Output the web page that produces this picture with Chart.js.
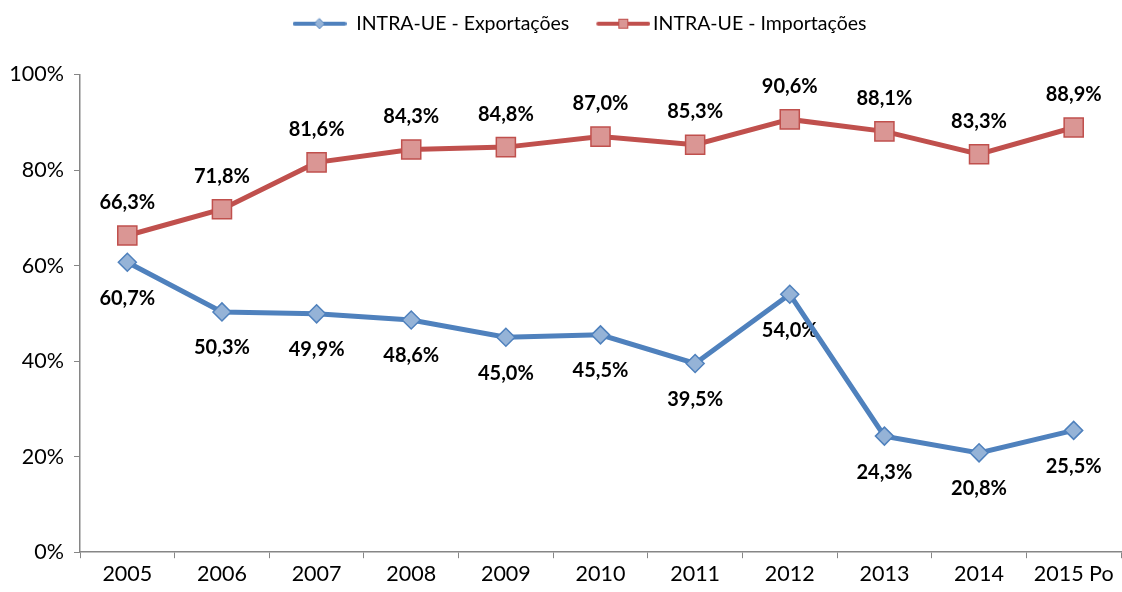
<!DOCTYPE html>
<html>
<head>
<meta charset="utf-8">
<script src="https://cdn.jsdelivr.net/npm/chart.js@4/dist/chart.umd.min.js"></script>
<style>
  html, body { margin: 0; padding: 0; background: #fff; }
  #wrap { width: 1122px; height: 592px; position: relative; }
</style>
</head>
<body>
<div id="wrap"><canvas id="chart"></canvas></div>
<script>
    'use strict';

    var years = ['2005', '2006', '2007', '2008', '2009', '2010', '2011', '2012', '2013', '2014', '2015 Po'];
    var exportsIntra = [60.7, 50.3, 49.9, 48.6, 45.0, 45.5, 39.5, 54.0, 24.3, 20.8, 25.5];
    var importsIntra = [66.3, 71.8, 81.6, 84.3, 84.8, 87.0, 85.3, 90.6, 88.1, 83.3, 88.9];
    var yTicks = [0, 20, 40, 60, 80, 100];

    var FONT = 'Lato, "Open Sans", sans-serif';
    var BLUE = '#4F81BD', BLUE_FILL = '#95B3D7';
    var RED = '#C0504D', RED_FILL = '#DA9694';

    // legend swatch: line with marker in the middle (optional blank margin on the left)
    function makeSwatch(color, fill, shape, margin) {
        var c = document.createElement('canvas');
        c.width = 54 + margin; c.height = 14;
        var g = c.getContext('2d');
        g.translate(margin, 0);
        g.strokeStyle = color;
        g.lineWidth = 4;
        g.lineCap = 'round';
        g.beginPath(); g.moveTo(2, 7); g.lineTo(52, 7); g.stroke();
        g.fillStyle = fill;
        g.lineWidth = 1;
        if (shape === 'rect') {
            g.fillRect(22, 2, 10, 10);
            g.strokeRect(22.5, 2.5, 9, 9);
        } else {
            g.beginPath();
            g.moveTo(27, 2); g.lineTo(32, 7); g.lineTo(27, 12); g.lineTo(22, 7); g.closePath();
            g.fill(); g.stroke();
        }
        return c;
    }

    var valueLabels = {
        id: 'valueLabels',
        beforeDatasetsDraw: function (chart) {
            var ctx = chart.ctx;
            ctx.save();
            ctx.font = 'bold 20px ' + FONT;
            ctx.fillStyle = '#000';
            ctx.textAlign = 'center';
            ctx.textBaseline = 'middle';
            chart.data.datasets.forEach(function (ds, i) {
                var meta = chart.getDatasetMeta(i);
                meta.data.forEach(function (pt, j) {
                    var txt = ds.data[j].toFixed(1).replace('.', ',') + '%';
                    var dy = ds.labelPos === 'above' ? -33 : 36;
                    ctx.fillText(txt, pt.x, pt.y + dy);
                });
            });
            ctx.restore();
        }
    };

    // push the plot area down below the legend, and nudge the legend right a bit
    var legendGap = {
        id: 'legendGap',
        beforeInit: function (chart) {
            var origFit = chart.legend.fit;
            chart.legend.fit = function () {
                origFit.bind(chart.legend)();
                this.height += 31;
            };
        },
        afterLayout: function (chart) {
            chart.legend.left += 19;
            chart.legend.right += 19;
        }
    };

    new Chart(document.getElementById('chart'), {
        type: 'line',
        data: {
            labels: years,
            datasets: [{
                label: 'INTRA-UE - Exportações',
                data: exportsIntra,
                borderColor: BLUE,
                backgroundColor: BLUE_FILL,
                borderWidth: 5,
                pointStyle: 'rectRot',
                pointRadius: 9,
                pointBorderWidth: 1.5,
                pointBorderColor: BLUE,
                pointBackgroundColor: BLUE_FILL,
                labelPos: 'below',
                legendSwatch: makeSwatch(BLUE, BLUE_FILL, 'diamond', 0)
            }, {
                label: 'INTRA-UE - Importações',
                data: importsIntra,
                borderColor: RED,
                backgroundColor: RED_FILL,
                borderWidth: 5,
                pointStyle: 'rect',
                pointRadius: 13.5,
                pointBorderWidth: 1.5,
                pointBorderColor: RED,
                pointBackgroundColor: RED_FILL,
                labelPos: 'above',
                legendSwatch: makeSwatch(RED, RED_FILL, 'rect', 14)
            }]
        },
        options: {
            responsive: true,
            maintainAspectRatio: false,
            animation: false,
            layout: { autoPadding: false, padding: { top: -6, right: 1, bottom: 2, left: 0 } },
            plugins: {
                tooltip: { enabled: false },
                legend: {
                    position: 'top',
                    labels: {
                        usePointStyle: true,
                        pointStyleWidth: 54,
                        color: '#000',
                        font: { family: FONT, size: 19.5 },
                        padding: 20,
                        generateLabels: function (chart) {
                            return chart.data.datasets.map(function (ds, i) {
                                return {
                                    text: ds.label,
                                    pointStyle: ds.legendSwatch,
                                    fontColor: '#000',
                                    lineWidth: 0,
                                    datasetIndex: i
                                };
                            });
                        }
                    }
                }
            },
            scales: {
                x: {
                    offset: true,
                    afterFit: function (scale) {
                        scale.paddingLeft = 0;
                        scale.paddingRight = 0;
                    },
                    grid: {
                        offset: true,
                        drawOnChartArea: false,
                        tickLength: 6,
                        color: '#868686'
                    },
                    border: { color: '#868686', width: 1.5 },
                    ticks: { color: '#000', font: { family: FONT, size: 21.5 }, padding: 3, maxRotation: 0 }
                },
                y: {
                    min: 0,
                    max: 100,
                    afterBuildTicks: function (scale) {
                        scale.ticks = yTicks.map(function (v) { return { value: v }; });
                    },
                    afterFit: function (scale) { scale.width = 80; },
                    grid: {
                        drawOnChartArea: false,
                        tickLength: 6,
                        color: '#868686'
                    },
                    border: { color: '#868686', width: 1.5 },
                    ticks: {
                        color: '#000',
                        font: { family: FONT, size: 21.5 },
                        padding: 10,
                        callback: function (v) { return v + '%'; }
                    }
                }
            }
        },
        plugins: [valueLabels, legendGap]
    });
</script>
</body>
</html>
